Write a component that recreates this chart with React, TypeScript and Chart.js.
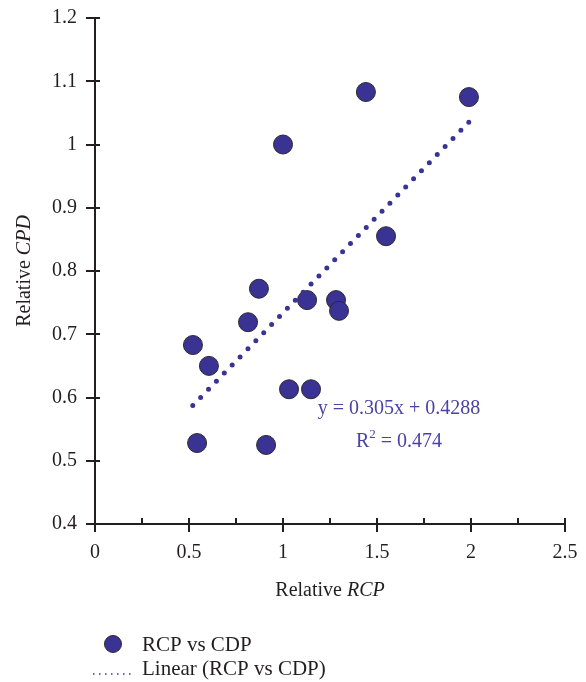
import React, { useEffect, useRef } from "react";
import { Chart, registerables } from "chart.js";

Chart.register(...registerables);

// ---- data ----
const rcp = [0.521, 0.606, 0.543, 0.91, 0.814, 0.872, 1.0, 1.032, 1.149, 1.128, 1.282, 1.298, 1.441, 1.548, 1.989];
const cpd = [0.683, 0.65, 0.528, 0.525, 0.719, 0.772, 1.0, 0.613, 0.613, 0.754, 0.754, 0.737, 1.083, 0.855, 1.075];
const trendX = [0.52, 1.99];
const trendY = [0.5874, 1.0358];
const equationText = "y = 0.305x + 0.4288";
const r2Text = " = 0.474";
const xTickValues = [0, 0.5, 1, 1.5, 2, 2.5];
const xTickLabels = ["0", "0.5", "1", "1.5", "2", "2.5"];
const xMinorTicks = [0.25, 0.75, 1.25, 1.75, 2.25];
const yTickValues = [0.4, 0.5, 0.6, 0.7, 0.8, 0.9, 1.0, 1.1, 1.2];
const yTickLabels = ["0.4", "0.5", "0.6", "0.7", "0.8", "0.9", "1", "1.1", "1.2"];
const seriesName = "RCP vs CDP";
const trendName = "Linear (RCP vs CDP)";

const FONT = '"Liberation Serif", "DejaVu Serif", serif';
const TEXT = "#231f20";
const POINT = "#3a3393";
const EQ = "#4b43a3";

const overlayPlugin = {
  id: "overlay",
  afterDraw(chart: any) {
    const ctx = chart.ctx as CanvasRenderingContext2D;
    const xs = chart.scales.x;
    const ys = chart.scales.y;
    const ca = chart.chartArea;
    ctx.save();
    // axis lines
    ctx.strokeStyle = TEXT;
    ctx.lineWidth = 2;
    ctx.beginPath();
    ctx.moveTo(ca.left, ca.top);
    ctx.lineTo(ca.left, ca.bottom);
    ctx.lineTo(ca.right, ca.bottom);
    ctx.stroke();
    // y ticks
    yTickValues.forEach((v) => {
      const y = Math.round(ys.getPixelForValue(v));
      ctx.beginPath();
      ctx.moveTo(ca.left - 9, y);
      ctx.lineTo(ca.left + 5, y);
      ctx.stroke();
    });
    // x ticks
    xTickValues.forEach((v) => {
      const x = Math.round(xs.getPixelForValue(v));
      ctx.beginPath();
      ctx.moveTo(x, ca.bottom - 6);
      ctx.lineTo(x, ca.bottom + 8);
      ctx.stroke();
    });
    xMinorTicks.forEach((v) => {
      const x = Math.round(xs.getPixelForValue(v));
      ctx.beginPath();
      ctx.moveTo(x, ca.bottom - 6);
      ctx.lineTo(x, ca.bottom);
      ctx.stroke();
    });

    // axis titles (mixed regular / italic)
    const drawMixed = (parts: [string, boolean][], cx: number, cy: number, size: number) => {
      let total = 0;
      const widths = parts.map(([t, it]) => {
        ctx.font = `${it ? "italic " : ""}${size}px ${FONT}`;
        const w = ctx.measureText(t).width;
        total += w;
        return w;
      });
      let x = cx - total / 2;
      ctx.textBaseline = "middle";
      ctx.textAlign = "left";
      parts.forEach(([t, it], i) => {
        ctx.font = `${it ? "italic " : ""}${size}px ${FONT}`;
        ctx.fillText(t, x, cy);
        x += widths[i];
      });
    };
    ctx.fillStyle = TEXT;
    drawMixed([["Relative ", false], ["RCP", true]], (ca.left + ca.right) / 2, 591, 20);
    ctx.save();
    ctx.translate(25, (ca.top + ca.bottom) / 2);
    ctx.rotate(-Math.PI / 2);
    drawMixed([["Relative ", false], ["CPD", true]], 0, 0, 20);
    ctx.restore();

    // equation
    ctx.fillStyle = EQ;
    ctx.textAlign = "center";
    ctx.textBaseline = "middle";
    const ex = xs.getPixelForValue(1.617);
    ctx.font = `20px ${FONT}`;
    ctx.fillText(equationText, ex, ys.getPixelForValue(0.582));
    const ry = ys.getPixelForValue(0.53);
    const wR = ctx.measureText("R").width;
    const wRest = ctx.measureText(r2Text).width;
    ctx.font = `13px ${FONT}`;
    const w2 = ctx.measureText("2").width;
    let sx = ex - (wR + w2 + wRest) / 2;
    ctx.textAlign = "left";
    ctx.font = `20px ${FONT}`;
    ctx.fillText("R", sx, ry);
    sx += wR;
    ctx.font = `13px ${FONT}`;
    ctx.fillText("2", sx, ry - 7);
    sx += w2;
    ctx.font = `20px ${FONT}`;
    ctx.fillText(r2Text, sx, ry);

    // legend
    ctx.fillStyle = POINT;
    ctx.strokeStyle = "#2a2a2a";
    ctx.lineWidth = 1;
    ctx.beginPath();
    ctx.arc(113, 644, 8.5, 0, Math.PI * 2);
    ctx.fill();
    ctx.stroke();
    ctx.strokeStyle = POINT;
    ctx.lineWidth = 1.5;
    ctx.setLineDash([1.5, 4.5]);
    ctx.beginPath();
    ctx.moveTo(93, 674);
    ctx.lineTo(131, 674);
    ctx.stroke();
    ctx.setLineDash([]);
    ctx.fillStyle = TEXT;
    ctx.font = `21px ${FONT}`;
    ctx.textAlign = "left";
    ctx.textBaseline = "middle";
    ctx.fillText(seriesName, 142, 645);
    ctx.fillText(trendName, 142, 669);
    ctx.restore();
  },
};

export default function App() {
  const ref = useRef<HTMLCanvasElement>(null);
  useEffect(() => {
    if (!ref.current) return;
    const chart = new Chart(ref.current, {
      type: "scatter",
      data: {
        datasets: [
          {
            label: trendName,
            data: trendX.map((x, i) => ({ x, y: trendY[i] })),
            showLine: true,
            borderColor: POINT,
            borderWidth: 5,
            borderDash: [0, 11.3],
            borderCapStyle: "round",
            pointRadius: 0,
            pointHoverRadius: 0,
            order: 0,
          } as any,
          {
            label: seriesName,
            data: rcp.map((x, i) => ({ x, y: cpd[i] })),
            backgroundColor: POINT,
            borderColor: "#2a2a2a",
            borderWidth: 1,
            pointRadius: 9.5,
            order: 1,
          },
        ],
      },
      options: {
        animation: false,
        responsive: true,
        maintainAspectRatio: false,
        layout: { padding: { top: 18, right: 21, left: 0, bottom: 0 } },
        plugins: { legend: { display: false }, tooltip: { enabled: false } },
        scales: {
          x: {
            type: "linear",
            min: 0,
            max: 2.5,
            grid: { display: false, drawTicks: false },
            border: { display: false },
            afterBuildTicks: (s: any) => {
              s.ticks = xTickValues.map((v) => ({ value: v }));
            },
            afterFit: (s: any) => {
              s.height = 158;
              s.paddingLeft = 0;
              s.paddingRight = 0;
              s.paddingTop = 0;
              s.paddingBottom = 0;
            },
            ticks: {
              padding: 17,
              color: TEXT,
              font: { family: FONT, size: 20 },
              callback: (v: any) => {
                const i = xTickValues.findIndex((t) => Math.abs(t - v) < 1e-6);
                return i >= 0 ? xTickLabels[i] : "";
              },
            },
          },
          y: {
            type: "linear",
            min: 0.4,
            max: 1.2,
            grid: { display: false, drawTicks: false },
            border: { display: false },
            afterBuildTicks: (s: any) => {
              s.ticks = yTickValues.map((v) => ({ value: v }));
            },
            afterFit: (s: any) => {
              s.width = 95;
              s.paddingLeft = 0;
              s.paddingRight = 0;
              s.paddingTop = 0;
              s.paddingBottom = 0;
            },
            ticks: {
              padding: 18,
              color: TEXT,
              font: { family: FONT, size: 20 },
              callback: (v: any) => {
                const i = yTickValues.findIndex((t) => Math.abs(t - v) < 1e-6);
                return i >= 0 ? yTickLabels[i] : "";
              },
            },
          },
        },
      },
      plugins: [overlayPlugin],
    });
    return () => chart.destroy();
  }, []);
  return (
    <div style={{ position: "absolute", left: 0, top: 0, width: 586, height: 682, background: "#fff" }}>
      <canvas ref={ref} />
    </div>
  );
}
